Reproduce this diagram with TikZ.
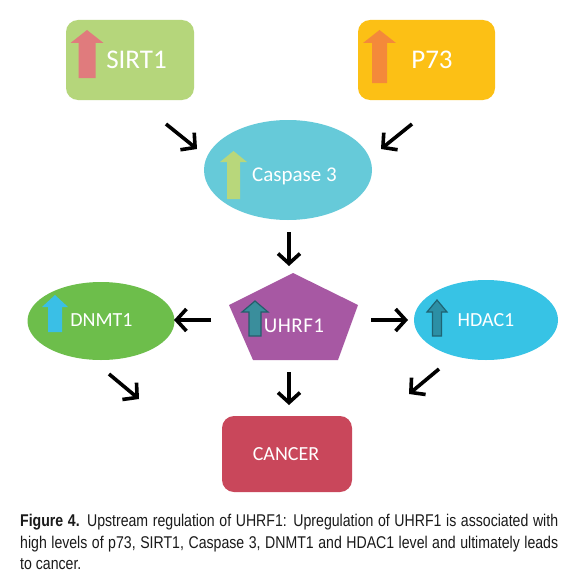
\documentclass[tikz,border=0pt]{standalone}
\usepackage{fontspec}
\setmainfont{Liberation Sans}
\newfontfamily\lblfont{Carlito}
\newfontfamily\capfont[FakeStretch=0.83]{Liberation Sans}
\usetikzlibrary{arrows.meta}
\definecolor{sirtbg}{HTML}{B5D67B}
\definecolor{sirtar}{HTML}{E07B7D}
\definecolor{p73bg}{HTML}{FCC015}
\definecolor{p73ar}{HTML}{F4893A}
\definecolor{caspbg}{HTML}{66CAD9}
\definecolor{casparr}{HTML}{B8D77B}
\definecolor{uhrfbg}{HTML}{A758A3}
\definecolor{uhrfar}{HTML}{3A8E9C}
\definecolor{uhrfol}{HTML}{255E6B}
\definecolor{dnmtbg}{HTML}{6DBE4B}
\definecolor{dnmtar}{HTML}{3ABFE6}
\definecolor{hdacbg}{HTML}{37C3E5}
\definecolor{hdacar}{HTML}{2C8FA5}
\definecolor{hdacol}{HTML}{1F6373}
\definecolor{cancerbg}{HTML}{C9475B}
\definecolor{captxt}{HTML}{1A1A1A}
\tikzset{
  boxnode/.style={rounded corners=12pt, minimum width=128pt, minimum height=80pt, inner sep=0pt},
  ovalnode/.style={ellipse, inner sep=0pt},
  lbl/.style={text=white, font=\lblfont\fontsize{16}{18}\selectfont, inner sep=0pt},
  flow/.style={line width=3.6pt, black, -{Straight Barb[length=10pt,width=22pt,line width=3.6pt]}},
}
\usetikzlibrary{shapes.geometric}
% up arrow shape: tip x, tip y, head half-width, head base y, shaft half-width, bottom y
\newcommand{\uparrowshape}[7]{%
  \path[#7] (#1,#2) -- (#1+#3,#4) -- (#1+#5,#4) -- (#1+#5,#6) -- (#1-#5,#6) -- (#1-#5,#4) -- (#1-#3,#4) -- cycle;}
\begin{document}
\begin{tikzpicture}[x=1pt,y=-1pt]
\useasboundingbox[fill=white] (0,0) rectangle (578,578);

% SIRT1
\node[boxnode, fill=sirtbg, minimum width=128pt, minimum height=80pt] (sirt) at (130,60) {};
\uparrowshape{87}{30}{16.5}{43}{8.5}{78}{fill=sirtar}
\node[lbl, font=\lblfont\fontsize{27}{30}\selectfont] (sirtl) at (136.5,60) {SIRT1};

% P73
\node[boxnode, fill=p73bg, minimum width=137pt, minimum height=80pt] (p73) at (426.5,60) {};
\uparrowshape{379.5}{30}{16.5}{43}{7.5}{83}{fill=p73ar}
\node[lbl, font=\lblfont\fontsize{27}{30}\selectfont] (p73l) at (432,60) {P73};

% Caspase 3
\node[ovalnode, fill=caspbg, minimum width=168pt, minimum height=100pt] (casp) at (288,170) {};
\uparrowshape{233.5}{151}{13.5}{162}{6.5}{199}{fill=casparr}
\node[lbl, font=\lblfont\fontsize{21}{24}\selectfont] (caspl) at (294.5,176) {Caspase 3};

% UHRF1 pentagon
\path[fill=uhrfbg] (293,273) -- (358,305) -- (338,360) -- (253,360) -- (229,305) -- cycle;
\coordinate (uhrf) at (293,320);
\uparrowshape{255}{301}{13}{312}{6}{336}{fill=uhrfar, draw=uhrfol, line width=1.2pt, line join=miter}
\node[lbl, font=\lblfont\fontsize{21}{24}\selectfont] (uhrfl) at (294,326) {U\kern0.5pt H\kern0.5pt R\kern0.5pt F\kern0.5pt 1};

% DNMT1
\node[ovalnode, fill=dnmtbg, minimum width=147pt, minimum height=78pt] (dnmt) at (101,321) {};
\uparrowshape{55}{295}{13}{307}{7}{332}{fill=dnmtar}
\node[lbl, font=\lblfont\fontsize{20}{22}\selectfont] (dnmtl) at (101.5,320) {DNMT1};

% HDAC1
\node[ovalnode, fill=hdacbg, minimum width=144pt, minimum height=80pt] (hdac) at (486,320) {};
\uparrowshape{437}{300}{10}{312}{4.5}{336}{fill=hdacar, draw=hdacol, line width=1.2pt, line join=miter}
\node[lbl, font=\lblfont\fontsize{20}{22}\selectfont] (hdacl) at (486,320) {HDAC1};

% CANCER
\node[boxnode, fill=cancerbg, minimum width=130pt, minimum height=76pt] (cancer) at (287,454) {};
\node[lbl, font=\lblfont\fontsize{20}{22}\selectfont] (cancerl) at (286,454) {CANCER};

% free-standing arrows
\coordinate (a1s) at (166,124); \coordinate (a1e) at (197,149);
\coordinate (a2s) at (412,124); \coordinate (a2e) at (381,149);
\coordinate (a3s) at (289,232); \coordinate (a3e) at (289,266);
\coordinate (a4s) at (211,320); \coordinate (a4e) at (174,320);
\coordinate (a5s) at (371,320); \coordinate (a5e) at (408,320);
\coordinate (a6s) at (109,374); \coordinate (a6e) at (139,399);
\coordinate (a7s) at (439,369); \coordinate (a7e) at (409,394);
\coordinate (a8s) at (289,372); \coordinate (a8e) at (289,405);
\draw[flow] (a1s) -- (a1e);
\draw[flow] (a2s) -- (a2e);
\draw[flow] (a3s) -- (a3e);
\draw[flow] (a4s) -- (a4e);
\draw[flow] (a5s) -- (a5e);
\draw[flow] (a6s) -- (a6e);
\draw[flow] (a7s) -- (a7e);
\draw[flow] (a8s) -- (a8e);

% caption
\node[anchor=north west, text width=538pt, inner sep=0pt, align=justify, text=captxt,
      font=\capfont\fontsize{17}{21.5}\selectfont] (cap) at (20,514)
  {\textbf{Figure 4.} Upstream regulation of UHRF1: Upregulation of UHRF1 is associated with\linebreak
   high levels of p73, SIRT1, Caspase 3, DNMT1 and HDAC1 level and ultimately leads\linebreak
   to cancer.};
\end{tikzpicture}
\end{document}
